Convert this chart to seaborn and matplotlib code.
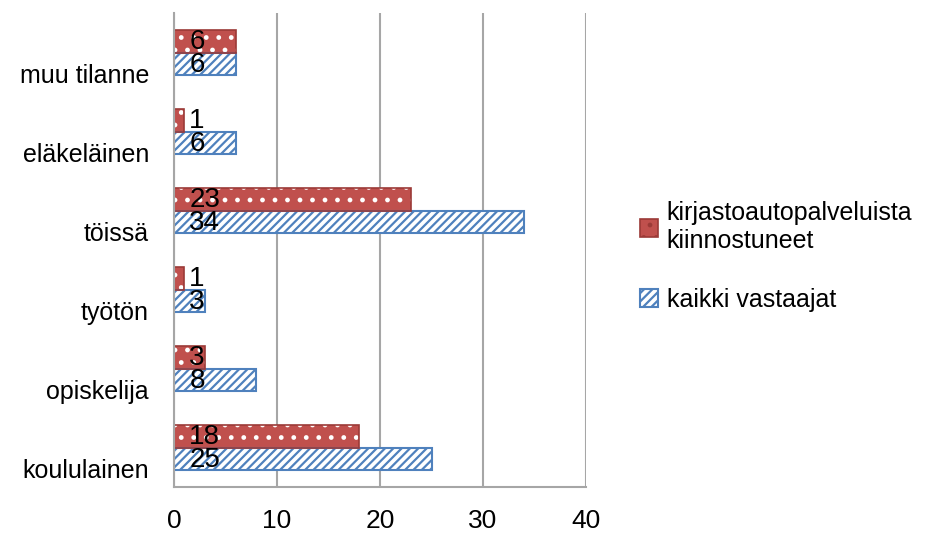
import numpy as np
import matplotlib
matplotlib.use("Agg")
import matplotlib.pyplot as plt
import matplotlib.transforms as mtransforms
from matplotlib.patches import Patch, Rectangle
import seaborn as sns
import pandas as pd

categories = ["muu tilanne", "eläkeläinen", "töissä", "työtön", "opiskelija", "koululainen"]
series_names = ["kirjastoautopalveluista\nkiinnostuneet", "kaikki vastaajat"]
interested = [6, 1, 23, 1, 3, 18]
all_resp = [6, 6, 34, 3, 8, 25]
x_ticks = [0, 10, 20, 30, 40]

RED = "#C0504D"
RED_EDGE = "#9B3A37"
BLUE = "#4F81BD"
GRAY = "#A6A6A6"
BLUE_HATCH = "//////"
RED_HATCH = ".."

# drawn at 150 dpi so the hatch patterns get the reference's spacing;
# S converts sizes tuned for 100 dpi
DPI = 150
S = 100 / DPI
FS = 18 * S

sns.set_style("white")
plt.rcParams["font.family"] = ["Liberation Sans Narrow", "Liberation Sans", "DejaVu Sans"]
plt.rcParams["hatch.linewidth"] = 1.6 * S
plt.rcParams["text.color"] = "black"
plt.rcParams["xtick.color"] = "black"
plt.rcParams["ytick.color"] = "black"

df = pd.DataFrame({
    "cat": categories * 2,
    "series": [series_names[0]] * len(categories) + [series_names[1]] * len(categories),
    "value": interested + all_resp,
})

fig = plt.figure(figsize=(929 / DPI, 540 / DPI), dpi=DPI)
ax = fig.add_axes([0.1873, 0.0981, 0.6308 - 0.1873, 0.9759 - 0.0981])

sns.barplot(data=df, y="cat", x="value", hue="series", order=categories,
            hue_order=series_names, orient="h", width=0.58, ax=ax,
            legend=False, errorbar=None)

n = len(categories)
for i, p in enumerate(ax.patches[:2 * n]):
    x0, y0 = p.get_x(), p.get_y()
    w, h = p.get_width(), p.get_height()
    if i < n:
        p.set_facecolor(RED)
        p.set_edgecolor("white")
        p.set_hatch(RED_HATCH)
        p.set_linewidth(0)
        ax.add_patch(Rectangle((x0, y0), w, h, fill=False, edgecolor=RED_EDGE,
                               linewidth=1.2 * S, zorder=p.get_zorder() + 0.1))
    else:
        p.set_facecolor("white")
        p.set_edgecolor(BLUE)
        p.set_hatch(BLUE_HATCH)
        p.set_linewidth(1.5 * S)
    val = interested[i] if i < n else all_resp[i - n]
    ax.annotate(f"{val}", (0, y0 + h / 2), xytext=(11 * S, -1 * S), textcoords="offset points",
                ha="left", va="center", fontsize=FS + 2 * S, color="black", zorder=5)

ax.set_xlim(0, 40)
ax.set_ylim(n - 0.5, -0.5)
ax.set_xticks(x_ticks)
ax.set_xticklabels([str(t) for t in x_ticks], fontsize=FS + 1 * S)
ax.xaxis.grid(True, color=GRAY, linewidth=1.5 * S)
ax.set_axisbelow(True)

ax.set_yticks(range(n))
ax.set_yticklabels(categories, fontsize=FS)
ax.set_yticks(np.arange(-0.5, n, 1), minor=True)
ax.tick_params(axis="y", which="major", length=0, pad=18 * S)
ax.tick_params(axis="y", which="minor", length=8 * S, width=1.5 * S, color=GRAY, direction="out")
ax.tick_params(axis="x", length=8 * S, width=1.5 * S, color=GRAY, labelcolor="black",
               direction="out", pad=8 * S)
offset = mtransforms.ScaledTranslation(0, -0.21 * S, fig.dpi_scale_trans)
for lab in ax.get_yticklabels():
    lab.set_transform(lab.get_transform() + offset)
    lab.set_color("black")

ax.set_xlabel("")
ax.set_ylabel("")
for s in ["top", "right"]:
    ax.spines[s].set_visible(False)
for s in ["left", "bottom"]:
    ax.spines[s].set_color(GRAY)
    ax.spines[s].set_linewidth(1.5 * S)

handles = [
    Patch(facecolor=RED, edgecolor=RED_EDGE, hatch=RED_HATCH, linewidth=1.2 * S, label=series_names[0]),
    Patch(facecolor="white", edgecolor=BLUE, hatch=BLUE_HATCH, linewidth=1.5 * S, label=series_names[1]),
]
fig.legend(handles=handles, loc="center left", bbox_to_anchor=(0.665, 0.525),
           frameon=False, fontsize=FS, handlelength=0.7, handleheight=0.7,
           handletextpad=0.35, labelspacing=1.4, labelcolor="black")

fig.savefig("out.png", dpi=DPI)
